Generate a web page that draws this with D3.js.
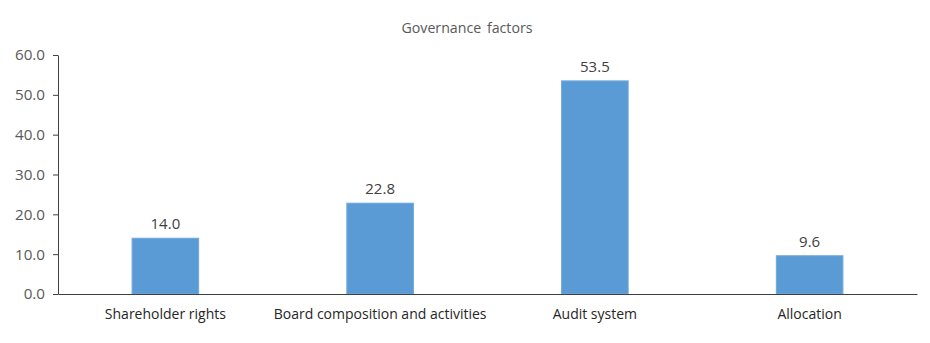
<!DOCTYPE html>
<html>
<head>
<meta charset="utf-8">
<script src="https://cdn.jsdelivr.net/npm/d3@7"></script>
<style>
  html, body { margin: 0; padding: 0; background: #fff; }
  svg { display: block; font-family: "Open Sans", "Noto Sans", sans-serif; }
</style>
</head>
<body>
<svg id="chart" width="930" height="343"></svg>
<script>
const title = "Governance factors";
const categories = ["Shareholder rights", "Board composition and activities", "Audit system", "Allocation"];
const values = [14.0, 22.8, 53.5, 9.6];
const yTicks = [0, 10, 20, 30, 40, 50, 60];

const svg = d3.select("#chart");
const margin = { top: 55, right: 13, bottom: 49, left: 58 };
const W = 930, H = 343;
const innerW = W - margin.left - margin.right;
const innerH = H - margin.top - margin.bottom;

const g = svg.append("g").attr("transform", `translate(${margin.left},${margin.top})`);

const x = d3.scaleBand().domain(categories).range([0, innerW]).paddingInner(0.69).paddingOuter(0.345);
const y = d3.scaleLinear().domain([0, 60]).range([innerH, 0]);

svg.append("text")
  .attr("x", 467).attr("y", 33)
  .attr("text-anchor", "middle")
  .attr("font-size", 14.2)
  .attr("fill", "#595959")
  .attr("word-spacing", 2)
  .text(title);

// Y axis
const yAxis = g.append("g").call(d3.axisLeft(y).tickValues(yTicks).tickSize(5).tickSizeOuter(0).tickFormat(d3.format(".1f")));
yAxis.select(".domain").attr("stroke", "#404040");
yAxis.selectAll(".tick line").attr("stroke", "#404040");
yAxis.selectAll(".tick text")
  .attr("font-size", 15.2)
  .attr("fill", "#595959")
  .attr("x", -13)
  .attr("font-family", "Open Sans, sans-serif");

// Bars
g.selectAll("rect.bar").data(values).enter().append("rect")
  .attr("class", "bar")
  .attr("x", (d, i) => x(categories[i]))
  .attr("y", d => y(d))
  .attr("width", x.bandwidth())
  .attr("height", d => innerH - y(d))
  .attr("fill", "#5B9BD5")
  .attr("stroke", "#6FA8DC")
  .attr("stroke-width", 1);

// Value labels
g.selectAll("text.val").data(values).enter().append("text")
  .attr("class", "val")
  .attr("x", (d, i) => x(categories[i]) + x.bandwidth() / 2)
  .attr("y", d => y(d) - 9)
  .attr("text-anchor", "middle")
  .attr("font-size", 15)
  .attr("fill", "#404040")
  .text(d => d3.format(".1f")(d));

// X axis
const xAxis = g.append("g").attr("transform", `translate(0,${innerH})`)
  .call(d3.axisBottom(x).tickSize(0).tickSizeOuter(0));
xAxis.select(".domain").attr("stroke", "#404040");
xAxis.selectAll(".tick text")
  .attr("font-size", 14)
  .attr("fill", "#262626")
  .attr("dy", "1.6em")
  .attr("font-family", "Open Sans, sans-serif");
</script>
</body>
</html>
